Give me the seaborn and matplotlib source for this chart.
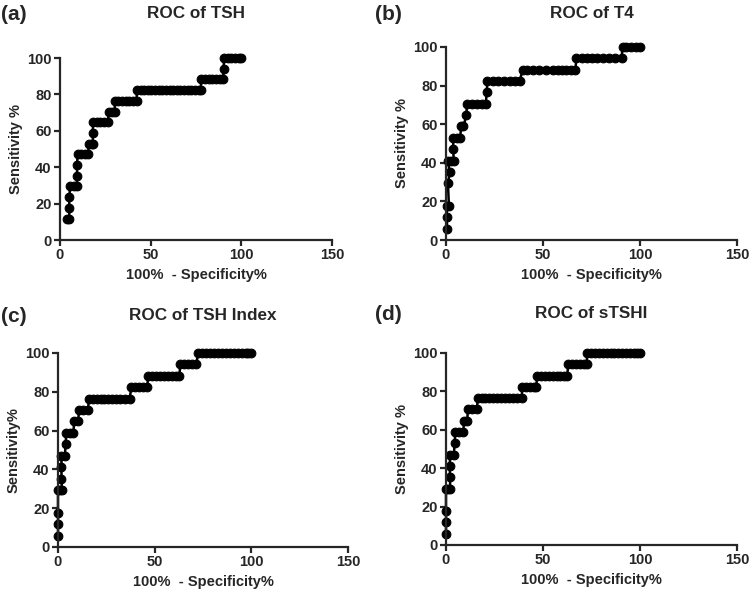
import matplotlib
matplotlib.use('Agg')
import matplotlib.pyplot as plt
import seaborn as sns
import pandas as pd

# ROC points (x = 100% - specificity, y = sensitivity)
tsh_x = [3.7, 5.2, 5.0, 5.2, 5.5, 7.5, 9.3, 9.4, 9.4, 9.7, 11.7, 13.7, 15.6,
         15.8, 17.8, 18.2, 18.0, 18.3, 20.3, 22.3, 24.3, 26.5, 26.8, 28.8, 30.2,
         30.2, 32.2, 34.2, 36.2, 38.2, 40.2, 42.2,
         42.4, 44.4, 46.4, 48.4, 50.4, 52.4, 54.4, 56.4, 58.4, 60.4, 62.4, 64.4,
         66.4, 68.4, 70.4, 72.4, 74.4, 76.5, 77.5,
         78.0, 80.0, 82.0, 84.0, 86.0, 88.0, 90.0, 90.2,
         90.5, 92.5, 94.5, 96.5, 98.5, 100.0]
tsh_y = [11.76, 11.76, 17.65, 23.53, 29.41, 29.41, 29.41, 35.29, 41.18, 47.06, 47.06, 47.06, 47.06,
         52.94, 52.94, 52.94, 58.82, 64.71, 64.71, 64.71, 64.71, 64.71, 70.59, 70.59, 70.59,
         76.47, 76.47, 76.47, 76.47, 76.47, 76.47, 76.47,
         82.35, 82.35, 82.35, 82.35, 82.35, 82.35, 82.35, 82.35, 82.35, 82.35, 82.35, 82.35,
         82.35, 82.35, 82.35, 82.35, 82.35, 82.35, 82.35,
         88.24, 88.24, 88.24, 88.24, 88.24, 88.24, 88.24, 94.12,
         100, 100, 100, 100, 100, 100]

t4_x = [0.5, 0.5, 0.3, 1.5, 1.0, 2.0, 0.8, 2.5, 4.0, 3.7, 3.7, 5.5, 7.3,
        7.8, 9.0, 10.5, 10.8, 13.5, 16.0, 18.5, 20.5, 21.0,
        21.3, 24.0, 27.0, 30.0, 33.0, 35.5, 38.0,
        39.5, 42.0, 45.0, 48.0, 51.5, 55.0, 57.5, 60.0, 62.0, 64.5, 66.7,
        67.2, 70.0, 72.5, 75.0, 78.0, 81.0, 84.0, 87.0, 90.5,
        91.0, 93.0, 95.5, 98.0, 100.0]
t4_y = [5.88, 11.76, 17.65, 17.65, 29.41, 35.29, 41.18, 41.18, 41.18, 47.06, 52.94, 52.94, 52.94,
        58.82, 58.82, 64.71, 70.59, 70.59, 70.59, 70.59, 70.59, 76.47,
        82.35, 82.35, 82.35, 82.35, 82.35, 82.35, 82.35,
        88.24, 88.24, 88.24, 88.24, 88.24, 88.24, 88.24, 88.24, 88.24, 88.24, 88.24,
        94.12, 94.12, 94.12, 94.12, 94.12, 94.12, 94.12, 94.12, 94.12,
        100, 100, 100, 100, 100]

tshi_x = [0.0, 0.0, 0.0, 0.0, 1.0, 2.0, 1.8, 1.8, 1.8, 3.5, 4.0,
          4.2, 6.2, 8.0, 8.3, 10.3, 11.0, 13.0, 15.5,
          16.0, 18.0, 20.0, 22.0, 24.0, 26.0, 28.0, 30.0, 32.0, 34.5, 37.0,
          38.0, 40.0, 42.0, 44.0, 46.0,
          46.8, 48.8, 50.8, 52.8, 54.8, 56.8, 58.8, 60.8, 62.8,
          63.2, 65.2, 67.2, 69.2, 71.5,
          72.5, 74.5, 76.5, 78.5, 80.5, 83.0, 85.0, 87.0, 89.0, 91.0, 93.0,
          95.0, 97.0, 98.5, 100.0]
tshi_y = [5.88, 11.76, 17.65, 29.41, 29.41, 29.41, 35.29, 41.18, 47.06, 47.06, 52.94,
          58.82, 58.82, 58.82, 64.71, 64.71, 70.59, 70.59, 70.59,
          76.47, 76.47, 76.47, 76.47, 76.47, 76.47, 76.47, 76.47, 76.47, 76.47, 76.47,
          82.35, 82.35, 82.35, 82.35, 82.35,
          88.24, 88.24, 88.24, 88.24, 88.24, 88.24, 88.24, 88.24, 88.24,
          94.12, 94.12, 94.12, 94.12, 94.12,
          100, 100, 100, 100, 100, 100, 100, 100, 100, 100, 100,
          100, 100, 100, 100]

stshi_x = [0.0, 0.0, 0.0, 0.0, 1.2, 2.2, 2.0, 2.0, 2.0, 4.0, 4.5,
           4.7, 6.7, 9.0, 9.2, 11.0, 11.2, 13.2, 16.0,
           16.3, 18.3, 20.3, 22.3, 24.3, 26.3, 28.3, 30.3, 32.3, 34.3, 36.5, 39.0,
           39.3, 41.3, 43.3, 45.3, 46.5,
           47.0, 49.0, 51.0, 53.0, 55.0, 57.0, 59.0, 61.0, 62.5,
           63.0, 65.0, 67.0, 69.0, 71.0, 72.5,
           72.8, 74.8, 76.8, 78.8, 80.8, 82.8, 84.8, 86.8, 88.8, 90.8, 92.8,
           94.8, 96.8, 98.5, 100.0]
stshi_y = [5.88, 11.76, 17.65, 29.41, 29.41, 29.41, 35.29, 41.18, 47.06, 47.06, 52.94,
           58.82, 58.82, 58.82, 64.71, 64.71, 70.59, 70.59, 70.59,
           76.47, 76.47, 76.47, 76.47, 76.47, 76.47, 76.47, 76.47, 76.47, 76.47, 76.47, 76.47,
           82.35, 82.35, 82.35, 82.35, 82.35,
           88.24, 88.24, 88.24, 88.24, 88.24, 88.24, 88.24, 88.24, 88.24,
           94.12, 94.12, 94.12, 94.12, 94.12, 94.12,
           100, 100, 100, 100, 100, 100, 100, 100, 100, 100, 100,
           100, 100, 100, 100]

panels = [
    ('(a)', 'ROC of TSH', 'Sensitivity %', tsh_x, tsh_y),
    ('(b)', 'ROC of T4', 'Sensitivity %', t4_x, t4_y),
    ('(c)', 'ROC of TSH Index', 'Sensitivity%', tshi_x, tshi_y),
    ('(d)', 'ROC of sTSHI', 'Sensitivity %', stshi_x, stshi_y),
]

sns.set_style('ticks')
plt.rcParams['font.family'] = ['Liberation Sans', 'DejaVu Sans']
plt.rcParams['font.weight'] = 'bold'

W, H = 752, 595
fig = plt.figure(figsize=(W / 100, H / 100), dpi=100)

# axes boxes in pixels: left, top, right, bottom
boxes = [(60, 58, 332, 240), (446, 47, 737, 240), (58, 353, 348, 547), (446, 353, 737, 545)]
title_y = [13, 14, 316, 314]
label_pos = [(1, 14), (375, 14), (1, 316), (375, 314)]

for (tag, title, ylab, xs, ys), (l, t, r, b), ty, (lx, ly) in zip(panels, boxes, title_y, label_pos):
    ax = fig.add_axes([l / W, 1 - b / H, (r - l) / W, (b - t) / H])
    df = pd.DataFrame({'x': xs, 'y': ys})
    sns.lineplot(data=df, x='x', y='y', ax=ax, sort=False, estimator=None,
                 color='black', linewidth=1.8, marker='o', markersize=6.3,
                 markeredgecolor='black', clip_on=False)
    ax.set_xlim(0, 150)
    ax.set_ylim(0, 100)
    ax.set_xticks([0, 50, 100, 150])
    ax.set_yticks([0, 20, 40, 60, 80, 100])
    sns.despine(ax=ax)
    for s in ['left', 'bottom']:
        ax.spines[s].set_linewidth(1.6)
    ax.tick_params(width=1.6, length=4, labelsize=10.5, pad=2)
    for lab in ax.get_xticklabels() + ax.get_yticklabels():
        lab.set_fontweight('bold')
    ax.set_xlabel('100%  - Specificity%', fontsize=10.5, fontweight='bold', labelpad=4)
    ax.set_ylabel(ylab, fontsize=10.5, fontweight='bold', labelpad=3)
    fig.text(((l + r) / 2) / W, 1 - ty / H, title, ha='center', va='center',
             fontsize=12.3, fontweight='bold')
    fig.text(lx / W, 1 - ly / H, tag, ha='left', va='center', fontsize=15, fontweight='bold')

fig.savefig('out.png', dpi=100)
